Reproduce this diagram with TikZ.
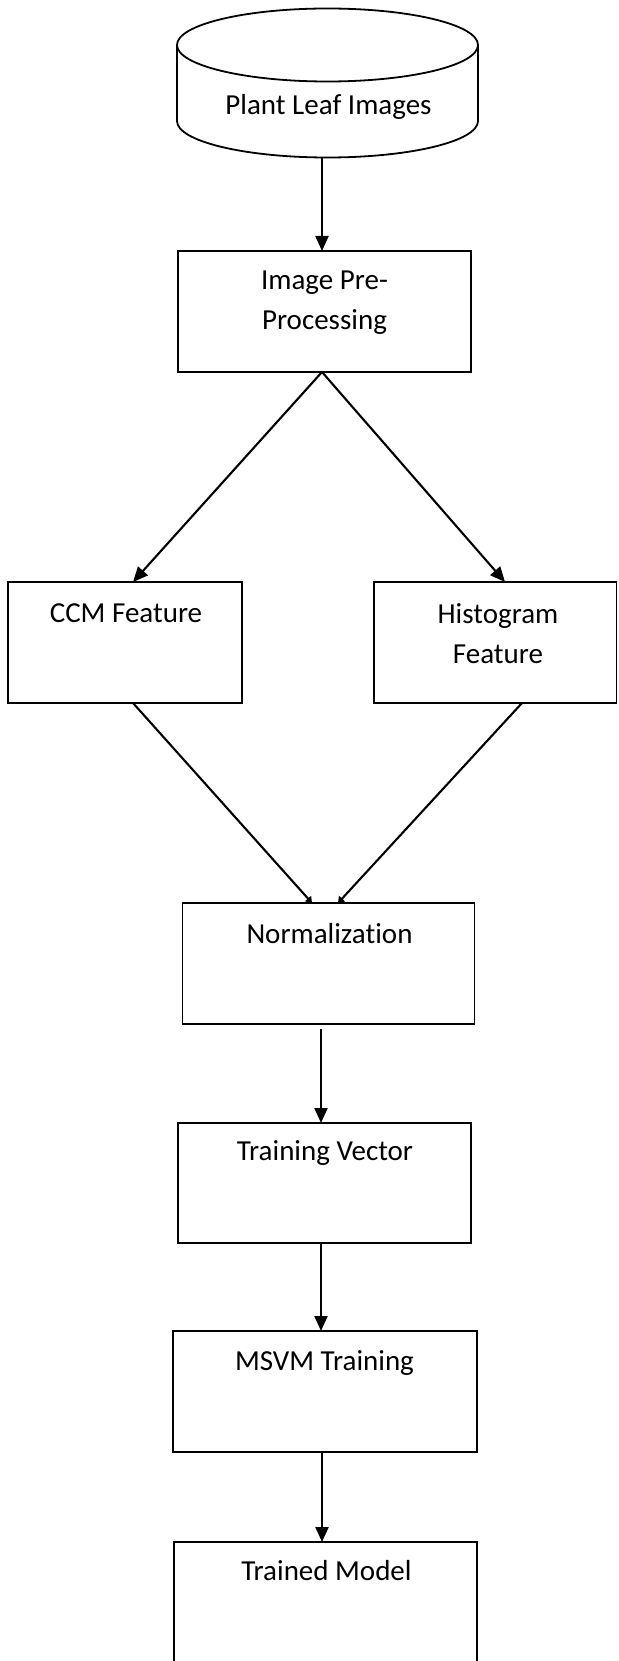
\documentclass[tikz,border=0pt]{standalone}
\usepackage{fontspec}
\setmainfont{Carlito}[Ligatures=NoCommon]
\usetikzlibrary{arrows.meta,calc}
\begin{document}
\begin{tikzpicture}[x=1pt,y=1pt,
  boxnode/.style={draw=black,line width=1.8pt,inner sep=0pt,outer sep=0pt,fill=none},
  lbl/.style={inner sep=0pt,anchor=base,align=center,font=\fontsize{29}{40}\selectfont},
  arr/.style={line width=2.1pt,-{Triangle[length=15pt,width=13pt]}},
  arrsmall/.style={line width=2.1pt,-{Triangle[length=6pt,width=8pt]}}]
\useasboundingbox (0,0) rectangle (618,-1661);
\clip (0,0) rectangle (618,-1661);
% cylinder
\node[inner sep=0pt,minimum width=301pt,minimum height=149pt] (cyl) at (327.5,-83) {};
\draw[line width=1.8pt] (327.5,-45) ellipse [x radius=150.5, y radius=36.5];
\draw[line width=1.8pt] (177,-45) -- (177,-121) arc [start angle=180,end angle=360,x radius=150.5,y radius=36.5] -- (478,-45);
\node[lbl] (cylT) at (328.5,-115) {Plant Leaf Images};
% boxes
\node[boxnode,minimum width=293pt,minimum height=121pt] (pre) at (324.5,-311.5) {};
\node[boxnode,minimum width=234pt,minimum height=121pt] (ccm) at (125,-642.5) {};
\node[boxnode,minimum width=242.5pt,minimum height=121pt] (hist) at (495.25,-642.5) {};
\node[boxnode,minimum width=292pt,minimum height=121pt] (norm) at (328.5,-963.5) {};
\node[boxnode,minimum width=293pt,minimum height=120pt] (tv) at (324.5,-1183) {};
\node[boxnode,minimum width=304pt,minimum height=121pt] (msvm) at (325,-1391.5) {};
\node[boxnode,minimum width=303pt,minimum height=140pt] (tm) at (325.5,-1612) {};
% labels (base = baseline of last line)
\node[lbl] (preT) at (324.5,-330) {Image Pre-\\Processing};
\node[lbl] (ccmT) at (126,-622) {CCM Feature};
\node[lbl] (histT) at (498,-663) {Histogram\\Feature};
\node[lbl] (normT) at (329.5,-943) {Normalization};
\node[lbl] (tvT) at (325,-1160) {Training Vector};
\node[lbl] (msvmT) at (324.5,-1370) {MSVM Training};
\node[lbl] (tmT) at (326.5,-1580) {Trained Model};
% connectors
\draw[arr] ($(cyl.south)+(-5.5,0)$) -- ($(pre.north)+(-2.5,0)$);
\draw[arr] ($(pre.south)+(-2.5,0)$) -- ($(ccm.north)+(8,0)$);
\draw[arr] ($(pre.south)+(-2.5,0)$) -- ($(hist.north)+(9.75,0)$);
\draw[arrsmall] ($(ccm.south)+(8,0)$) -- ($(norm.north)+(-16.5,0)$);
\draw[arrsmall] ($(hist.south)+(26.75,0)$) -- ($(norm.north)+(9.5,0)$);
\draw[arr] ($(norm.south)+(-7.5,-5)$) -- ($(tv.north)+(-3.5,0)$);
\draw[arr] ($(tv.south)+(-3.5,0)$) -- ($(msvm.north)+(-4,0)$);
\draw[arr] ($(msvm.south)+(-3,0)$) -- ($(tm.north)+(-3.5,0)$);
\end{tikzpicture}
\end{document}
